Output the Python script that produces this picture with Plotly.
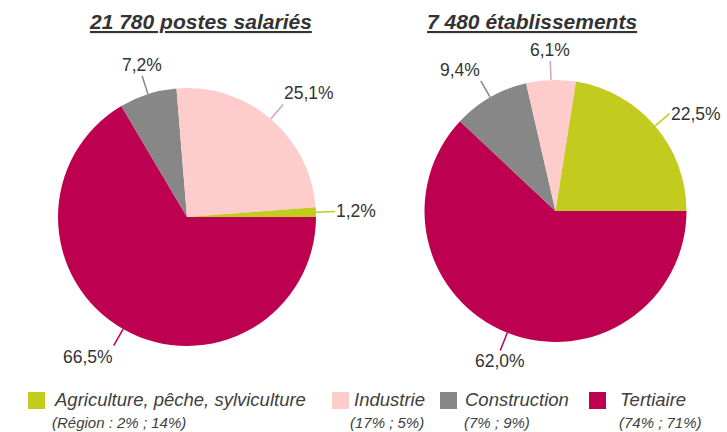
import math
import plotly.graph_objects as go

W, H = 727, 432

# ---------------- data ----------------
categories = ["Agriculture, pêche, sylviculture", "Industrie", "Construction", "Tertiaire"]
region_notes = ["(Région : 2% ; 14%)", "(17% ; 5%)", "(7% ; 9%)", "(74% ; 71%)"]
colors = ["#C3CC1E", "#FFCCCC", "#878787", "#BE0050"]
leader_colors = ["#C3CC1E", "#C8A9AD", "#878787", "#BE0050"]

titles = ["21 780 postes salariés", "7 480 établissements"]
postes_salaries = [1.2, 25.1, 7.2, 66.5]     # % by category
etablissements = [22.5, 6.1, 9.4, 62.0]      # % by category

# slices are drawn clockwise starting at 3 o'clock in this order
draw_order = [3, 2, 1, 0]

# ---------------- layout constants ----------------
FONT = "Liberation Sans, Arial, sans-serif"
TXT = "#333333"
pies = [
    dict(values=postes_salaries, cx=187, cy=217, r=129, title_x=200),
    dict(values=etablissements, cx=555.5, cy=211, r=131, title_x=532),
]
START = 90  # degrees, clockwise from 12 o'clock

def px(x):
    return x / W

def py(y):
    return 1 - y / H

fig = go.Figure()
annotations = []
shapes = []

for p, title in zip(pies, titles):
    cx, cy, r = p["cx"], p["cy"], p["r"]
    vals = [p["values"][i] for i in draw_order]
    fig.add_trace(go.Pie(
        labels=[categories[i] for i in draw_order],
        values=vals,
        marker=dict(colors=[colors[i] for i in draw_order], line=dict(width=0)),
        sort=False,
        direction="clockwise",
        rotation=START,
        textinfo="none",
        hoverinfo="label+percent",
        showlegend=False,
        domain=dict(x=[px(cx - r), px(cx + r)], y=[py(cy + r), py(cy - r)]),
    ))
    # labels with leader lines, computed from the values
    total = sum(vals)
    ang = START
    for i in draw_order:
        v = p["values"][i]
        span = 360 * v / total
        mid = math.radians(ang + span / 2)
        ang += span
        s, c = math.sin(mid), math.cos(mid)
        x0, y0 = cx + r * s, cy - r * c
        L = 19
        x1, y1 = cx + (r + L) * s, cy - (r + L) * c
        shapes.append(dict(type="line", xref="paper", yref="paper",
                           x0=px(x0), y0=py(y0), x1=px(x1), y1=py(y1),
                           line=dict(color=leader_colors[i], width=1.5)))
        xa = "left" if s > 0.4 else ("right" if s < -0.4 else "center")
        ya = "bottom" if c > 0.7 else ("top" if c < -0.7 else "middle")
        annotations.append(dict(
            x=px(x1), y=py(y1), xref="paper", yref="paper",
            text=f"{v:.1f}".replace(".", ",") + "%",
            showarrow=False, xanchor=xa, yanchor=ya,
            font=dict(family=FONT, size=17.5, color=TXT),
            borderpad=0,
        ))
    annotations.append(dict(
        x=px(p["title_x"]), y=py(21), xref="paper", yref="paper",
        text=f"<b><i><u>{title}</u></i></b>", showarrow=False,
        xanchor="center", yanchor="middle",
        font=dict(family=FONT, size=21, color=TXT),
    ))

# ---------------- legend (manual) ----------------
sq_x = [28, 332, 440, 589]
txt_x = [53, 353, 464, 619]
sub_x = [51, 349, 463, 618]
SQ = 17
for i, cat in enumerate(categories):
    shapes.append(dict(type="rect", xref="paper", yref="paper",
                       x0=px(sq_x[i]), x1=px(sq_x[i] + SQ), y0=py(392), y1=py(392 + SQ),
                       fillcolor=colors[i], line=dict(width=0)))
    annotations.append(dict(
        x=px(txt_x[i]), y=py(399), xref="paper", yref="paper",
        text=f"<i>{cat}</i>", showarrow=False, xanchor="left", yanchor="middle",
        font=dict(family=FONT, size=18.5, color="#404040"), borderpad=0,
    ))
    annotations.append(dict(
        x=px(sub_x[i]), y=py(422.5), xref="paper", yref="paper",
        text=f"<i>{region_notes[i]}</i>", showarrow=False, xanchor="left", yanchor="middle",
        font=dict(family=FONT, size=15, color="#404040"), borderpad=0,
    ))

fig.update_layout(
    width=W, height=H,
    margin=dict(l=0, r=0, t=0, b=0),
    paper_bgcolor="white", plot_bgcolor="white",
    annotations=annotations, shapes=shapes,
    showlegend=False,
)

fig.write_html("out.html",
               config={"displayModeBar": False},
               post_script="document.body.style.margin='0';document.body.style.overflow='hidden';")
